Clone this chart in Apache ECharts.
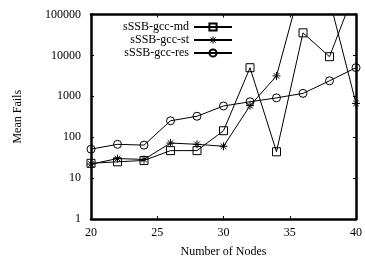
<!DOCTYPE html>
<html>
<head>
<meta charset="utf-8">
<script src="https://cdn.jsdelivr.net/npm/echarts@6/dist/echarts.min.js"></script>
<style>
  html, body { margin: 0; padding: 0; background: #fff; }
  #chart { width: 365px; height: 263px; }
</style>
</head>
<body>
<div id="chart"></div>
<script>
// values (log scale, points above 1e5 run off the top)
const nodes = [20, 22, 24, 26, 28, 30, 32, 34, 36, 38, 40];
const mdFails = [23, 25, 27, 47, 47, 144, 5000, 44, 35600, 9300, 450000];
const stFails = [22, 30, 28.6, 72, 67, 60, 590, 3150, 770000, 230000, 670];
const resFails = [51, 67, 64, 252, 325, 580, 735, 915, 1180, 2390, 5020];
const seriesNames = ['sSSB-gcc-md', 'sSSB-gcc-st', 'sSSB-gcc-res'];

const font = 'Liberation Serif';
const star = 'path://M0,5L10,5M5,0L5,10M1.5,1.5L8.5,8.5M1.5,8.5L8.5,1.5';
const hollow = { color: 'rgba(0,0,0,0)', borderColor: '#000', borderWidth: 1 };

const chart = echarts.init(document.getElementById('chart'), null, { renderer: 'canvas' });

const pairs = (vals) => nodes.map((n, i) => [n, vals[i]]);

const mkSeries = (name, vals, symbol) => ({
  name: name,
  type: 'line',
  data: pairs(vals),
  symbol: symbol,
  symbolSize: 8,
  showAllSymbol: true,
  clip: true,
  lineStyle: { color: '#000', width: 1 },
  itemStyle: hollow,
  emphasis: { disabled: true }
});

const borderAxis = {
  axisLine: { show: true, lineStyle: { color: '#000', width: 2.5 } },
  axisTick: { show: true, inside: true, length: 3, lineStyle: { color: '#000' } },
  splitLine: { show: false }
};

const option = {
  animation: false,
  textStyle: { fontFamily: font },
  grid: { left: 91, right: 2.5, top: 14.5, bottom: 38.5 },
  legend: {
    orient: 'vertical',
    right: 127,
    top: 16,
    align: 'right',
    itemWidth: 38,
    itemHeight: 9,
    itemGap: 1,
    textStyle: { fontFamily: font, fontSize: 12, color: '#000' },
    data: [
      { name: seriesNames[0] },
      { name: seriesNames[1], itemStyle: hollow },
      { name: seriesNames[2] }
    ]
  },
  xAxis: [
    Object.assign({
      type: 'value',
      min: 20,
      max: 40,
      interval: 5,
      name: 'Number of Nodes',
      nameLocation: 'middle',
      nameGap: 27,
      nameTextStyle: { fontFamily: font, fontSize: 12, color: '#000' },
      axisLabel: { fontFamily: font, fontSize: 12, color: '#000', margin: 8 }
    }, borderAxis),
    Object.assign({
      type: 'value',
      position: 'top',
      min: 20,
      max: 40,
      interval: 5,
      axisLabel: { show: false }
    }, borderAxis)
  ],
  yAxis: [
    Object.assign({
      type: 'log',
      logBase: 10,
      min: 1,
      max: 100000,
      name: 'Mean Fails',
      nameLocation: 'middle',
      nameGap: 67,
      nameTextStyle: { fontFamily: font, fontSize: 12, color: '#000' },
      axisLabel: {
        fontFamily: font, fontSize: 12, color: '#000', margin: 10,
        formatter: (v) => String(Math.round(v))
      }
    }, borderAxis),
    Object.assign({
      type: 'log',
      logBase: 10,
      position: 'right',
      min: 1,
      max: 100000,
      axisLabel: { show: false }
    }, borderAxis)
  ],
  series: [
    mkSeries(seriesNames[0], mdFails, 'rect'),
    mkSeries(seriesNames[1], stFails, star),
    mkSeries(seriesNames[2], resFails, 'circle')
  ]
};

chart.setOption(option);
</script>
</body>
</html>
